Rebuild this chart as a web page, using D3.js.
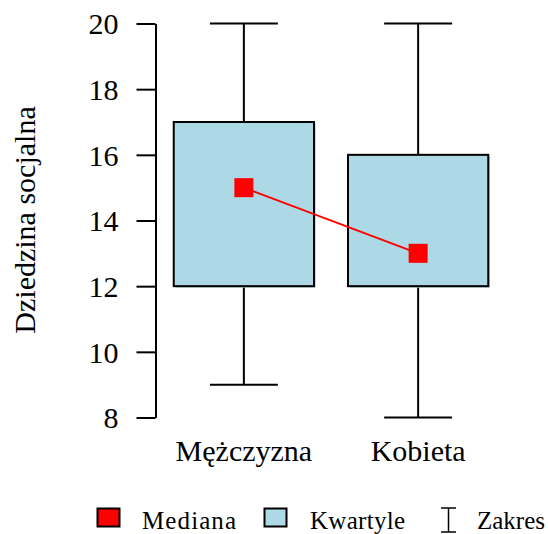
<!DOCTYPE html>
<html>
<head>
<meta charset="utf-8">
<script src="https://cdn.jsdelivr.net/npm/d3@7"></script>
<style>
  html, body { margin: 0; padding: 0; background: #fff; }
  svg { display: block; }
</style>
</head>
<body>
<svg id="chart" width="548" height="534"></svg>
<script>
// Box plot data per group
const categories = ["Mężczyzna", "Kobieta"];
const minValues = [9, 8];
const q1Values = [12, 12];
const medianValues = [15, 13];
const q3Values = [17, 16];
const maxValues = [20, 20];
const yTicks = [8, 10, 12, 14, 16, 18, 20];
const yLabel = "Dziedzina socjalna";
const legendLabels = ["Mediana", "Kwartyle", "Zakres"];

const data = categories.map((c, i) => ({
  cat: c, min: minValues[i], q1: q1Values[i], med: medianValues[i],
  q3: q3Values[i], max: maxValues[i]
}));

const svg = d3.select("#chart");
const font = "'Liberation Serif', 'Times New Roman', serif";

const x = d3.scalePoint().domain(categories).range([155, 507]).padding(0.51);
const y = d3.scaleLinear().domain([8, 20]).range([417.5, 23.5]);
const step = x.step();
const boxW = step * 0.805;
const capW = step * 0.39;

// Y axis
const yAxis = svg.append("g")
  .attr("transform", "translate(155.5,0)")
  .call(d3.axisLeft(y).tickValues(yTicks).tickSize(19).tickPadding(18).tickSizeOuter(0));
yAxis.select(".domain").attr("stroke", "#000").attr("stroke-width", 2);
yAxis.selectAll(".tick line").attr("stroke", "#000").attr("stroke-width", 2);
yAxis.selectAll(".tick text")
  .attr("font-family", font).attr("font-size", 30).attr("fill", "#000")
  .attr("dy", "0.34em");

// Y axis title
svg.append("text")
  .attr("transform", "translate(35,220) rotate(-90)")
  .attr("text-anchor", "middle")
  .attr("font-family", font).attr("font-size", 30)
  .text(yLabel);

// X category labels
svg.selectAll(".xlab").data(categories).enter().append("text")
  .attr("class", "xlab")
  .attr("x", d => x(d)).attr("y", 461)
  .attr("text-anchor", "middle")
  .attr("font-family", font).attr("font-size", 30)
  .text(d => d);

const g = svg.selectAll(".box").data(data).enter().append("g").attr("class", "box");

// Whiskers
g.append("line")
  .attr("x1", d => x(d.cat)).attr("x2", d => x(d.cat))
  .attr("y1", d => y(d.max)).attr("y2", d => y(d.q3))
  .attr("stroke", "#000").attr("stroke-width", 2);
g.append("line")
  .attr("x1", d => x(d.cat)).attr("x2", d => x(d.cat))
  .attr("y1", d => y(d.q1)).attr("y2", d => y(d.min))
  .attr("stroke", "#000").attr("stroke-width", 2);
g.append("line")
  .attr("x1", d => x(d.cat) - capW / 2).attr("x2", d => x(d.cat) + capW / 2)
  .attr("y1", d => y(d.max)).attr("y2", d => y(d.max))
  .attr("stroke", "#000").attr("stroke-width", 2);
g.append("line")
  .attr("x1", d => x(d.cat) - capW / 2).attr("x2", d => x(d.cat) + capW / 2)
  .attr("y1", d => y(d.min)).attr("y2", d => y(d.min))
  .attr("stroke", "#000").attr("stroke-width", 2);

// Box shadow and box
g.append("rect")
  .attr("x", d => x(d.cat) - boxW / 2 + 1.5).attr("y", d => y(d.q3) + 1.5)
  .attr("width", boxW).attr("height", d => y(d.q1) - y(d.q3))
  .attr("fill", "#9fc6d3");
g.append("rect")
  .attr("x", d => x(d.cat) - boxW / 2).attr("y", d => y(d.q3))
  .attr("width", boxW).attr("height", d => y(d.q1) - y(d.q3))
  .attr("fill", "#add8e6").attr("stroke", "#000").attr("stroke-width", 2);

// Median connecting line
svg.append("path")
  .datum(data)
  .attr("d", d3.line().x(d => x(d.cat)).y(d => y(d.med)))
  .attr("fill", "none").attr("stroke", "#f00").attr("stroke-width", 2);

// Median markers
const ms = 19;
svg.selectAll(".med").data(data).enter().append("rect")
  .attr("x", d => x(d.cat) - ms / 2).attr("y", d => y(d.med) - ms / 2)
  .attr("width", ms).attr("height", ms)
  .attr("fill", "#f00");

// Legend
const lg = svg.append("g");
const ly = 528.5;
lg.append("rect").attr("x", 97.5).attr("y", 508.5).attr("width", 22).attr("height", 18)
  .attr("fill", "#f00").attr("stroke", "#000").attr("stroke-width", 2);
lg.append("text").attr("x", 142).attr("y", ly)
  .attr("font-family", font).attr("font-size", 25).attr("letter-spacing", 1.1)
  .text(legendLabels[0]);
lg.append("rect").attr("x", 264.5).attr("y", 508.5).attr("width", 22).attr("height", 18)
  .attr("fill", "#add8e6").attr("stroke", "#000").attr("stroke-width", 2);
lg.append("text").attr("x", 310).attr("y", ly)
  .attr("font-family", font).attr("font-size", 25).attr("letter-spacing", 0.3)
  .text(legendLabels[1]);
lg.append("line").attr("x1", 448.5).attr("x2", 448.5).attr("y1", 508).attr("y2", 532)
  .attr("stroke", "#000").attr("stroke-width", 1.5);
lg.append("line").attr("x1", 441).attr("x2", 456).attr("y1", 508).attr("y2", 508)
  .attr("stroke", "#000").attr("stroke-width", 1.5);
lg.append("line").attr("x1", 441).attr("x2", 456).attr("y1", 532).attr("y2", 532)
  .attr("stroke", "#000").attr("stroke-width", 1.5);
lg.append("text").attr("x", 477).attr("y", ly)
  .attr("font-family", font).attr("font-size", 25)
  .text(legendLabels[2]);
</script>
</body>
</html>
